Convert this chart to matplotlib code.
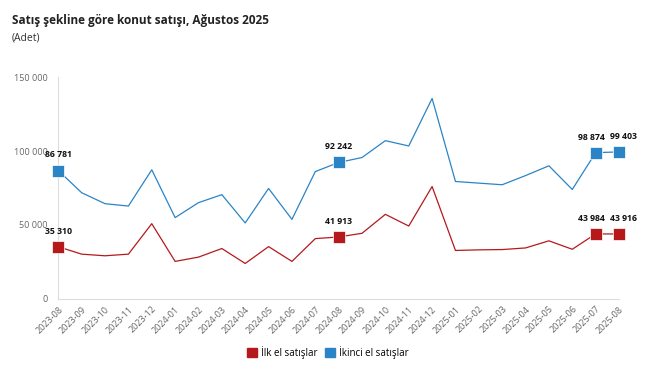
import numpy as np
import matplotlib.pyplot as plt
from matplotlib.ticker import FuncFormatter
from matplotlib.patches import Patch

plt.rcParams['font.family'] = ['Open Sans', 'DejaVu Sans']

# months on the x axis
months = ['2023-08', '2023-09', '2023-10', '2023-11', '2023-12',
          '2024-01', '2024-02', '2024-03', '2024-04', '2024-05', '2024-06',
          '2024-07', '2024-08', '2024-09', '2024-10', '2024-11', '2024-12',
          '2025-01', '2025-02', '2025-03', '2025-04', '2025-05', '2025-06',
          '2025-07', '2025-08']

# first-hand sales (Ilk el)
ilk_el = [35310, 30300, 29200, 30300, 50900, 25400, 28300, 34100, 24000,
          35400, 25400, 40800, 41913, 44400, 57200, 49300, 76000, 32800,
          33200, 33400, 34500, 39300, 33600, 43984, 43916]

# second-hand sales (Ikinci el)
ikinci_el = [86781, 71800, 64400, 62800, 87300, 55000, 65100, 70500, 51400,
             74700, 53800, 86100, 92242, 95600, 107000, 103400, 135500, 79400,
             78300, 77200, 83400, 90000, 74000, 98874, 99403]

labelled = [0, 12, 23, 24]
# small sideways nudge so the last two labels do not run into each other
nudge = {0: 0, 12: 0, 23: -3, 24: 3}

red = '#b5191c'
blue = '#2b84c6'

fig = plt.figure(figsize=(6.56, 3.79), dpi=100)
ax = fig.add_axes([0.0889, 0.2111, 0.8547, 0.5857])

x = np.arange(len(months))
series = [(ilk_el, red, 'İlk el satışlar'), (ikinci_el, blue, 'İkinci el satışlar')]
for vals, col, name in series:
    ax.plot(x, vals, color=col, lw=0.9, label=name)
    for i in labelled:
        ax.plot(x[i], vals[i], marker='s', ms=8.5, color=col, mec='white', mew=0.5,
                clip_on=False, zorder=3)
        txt = format(vals[i], ',').replace(',', ' ')
        ax.annotate(txt, (x[i], vals[i]), xytext=(nudge[i], 8), textcoords='offset points',
                    ha='center', va='bottom', fontsize=6.3, fontweight='bold', color='#111111')

ax.set_xlim(0, len(months) - 1)
ax.set_ylim(0, 150000)
ax.set_yticks([0, 50000, 100000, 150000])
ax.yaxis.set_major_formatter(FuncFormatter(lambda v, p: format(int(v), ',').replace(',', ' ')))
ax.set_xticks(x)
ax.set_xticklabels(months, rotation=45, ha='right', rotation_mode='anchor')
ax.tick_params(axis='both', length=0, labelsize=6.5, colors='#666666')
ax.tick_params(axis='y', pad=7.5)
ax.tick_params(axis='x', pad=4)

for s in ['top', 'right']:
    ax.spines[s].set_visible(False)
for s in ['left', 'bottom']:
    ax.spines[s].set_color('#dddddd')
    ax.spines[s].set_linewidth(0.8)

# legend with square handles
handles = [Patch(color=red, label='İlk el satışlar'), Patch(color=blue, label='İkinci el satışlar')]
fig.legend(handles=handles, loc='center', bbox_to_anchor=(0.5, 0.071), ncol=2, frameon=False,
           fontsize=7, handlelength=1.0, handleheight=1.0, handletextpad=0.4, columnspacing=0.8)

fig.text(0.018, 0.947, 'Satış şekline göre konut satışı, Ağustos 2025', fontsize=8.5,
         fontweight='bold', color='#222222', va='center')
fig.text(0.018, 0.9, '(Adet)', fontsize=7.5, color='#333333', va='center')

fig.savefig('out.png', dpi=100)
